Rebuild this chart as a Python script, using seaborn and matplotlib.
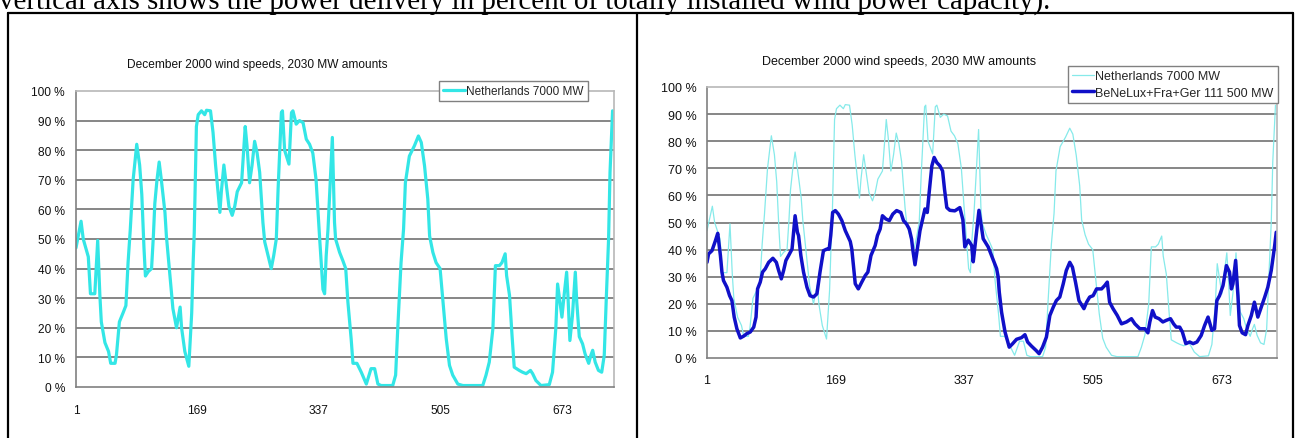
import numpy as np
import matplotlib
matplotlib.use("Agg")
import matplotlib.pyplot as plt
from matplotlib.lines import Line2D
import seaborn as sns

# hour of December 2000 -> % of installed wind capacity
nl_hours = [1, 8, 11, 18, 21, 27, 31, 34, 36, 41, 46, 49, 55, 57, 61, 66, 70, 73, 76, 80,
            85, 89, 92, 95, 97, 101, 105.5, 108, 110, 113, 116, 119, 124, 126, 131, 135, 140, 145, 147, 151.5,
            157, 161, 163, 164.5, 167.5, 170, 174.5, 179, 181.5, 187, 190.5, 194, 200, 202, 205.5, 209, 212.5, 217, 220.5, 224,
            230, 235, 237.5, 241, 244.5, 248, 251.5, 255, 259.5, 262, 266.5, 271, 274.5, 278, 280.5, 285, 286.5, 289.5, 295.5, 299,
            301, 305.5, 310, 315, 319.5, 324, 328.5, 333, 338, 342.5, 344.8, 347, 349.5, 355.5, 358.5, 360, 365.5, 370, 374, 377,
            381.5, 384, 389.5, 395.5, 402.5, 409, 414, 418.5, 423, 439, 443, 446, 450.5, 454, 456.5, 462, 469, 474.5, 478.5, 483,
            487.5, 490, 494.5, 499, 504.5, 509, 513, 517.5, 522, 529, 536, 563.5, 568, 572.5, 577.5, 581, 586.5, 590, 594.5, 596.5,
            600.5, 604, 607, 614, 618.5, 623.5, 629.5, 632.5, 637, 644, 655.5, 660, 664.5, 667, 670, 673, 676, 679.5, 681.5, 684,
            687.5, 691.5, 693.5, 697, 701.5, 705, 710, 713, 715.5, 719, 723.5, 728, 731.5, 734.5, 737.5, 739.5, 743]
nl_pct = [47, 56, 50, 44, 31.5, 31.5, 49.5, 31, 22, 15, 12, 8, 8, 11, 22, 25, 27.5, 42, 53, 70,
          82, 75, 65, 47, 37.5, 39, 40, 51, 62, 70, 76, 70, 59, 51, 37.5, 26.5, 20, 27, 20, 12,
          7, 25, 42, 52, 88, 92, 93.3, 92, 93.5, 93.3, 86, 75, 59, 66, 75, 68, 61, 58, 61, 66,
          69, 88, 81.5, 69, 75, 83, 79, 72.5, 55.5, 49, 44.5, 40, 44.5, 50, 67, 92.7, 93.3, 80, 75.3, 92.7,
          93.3, 88.8, 90, 89.3, 83.7, 82, 79, 70, 50, 33, 31.5, 44.4, 53.4, 84.3, 55.6, 50, 45.5, 42.7, 40, 28.7,
          16.3, 8, 8, 5, 1, 6.2, 6.2, 1, 0.5, 0.5, 4, 20, 42, 53.4, 69, 78, 81.5, 84.8, 82.6, 74.7,
          63.5, 51, 45.5, 42, 40, 27.5, 16.3, 7.3, 4, 1, 0.5, 0.5, 4, 8.4, 19.7, 41, 41, 42, 45, 37.6,
          31, 17.4, 6.7, 5.6, 5, 4.5, 5.6, 4.5, 2.2, 0.5, 0.8, 5, 19.7, 34.8, 29.2, 23.6, 31, 38.8, 29.8, 15.7,
          24, 38.8, 28.7, 17, 14.6, 11.2, 8, 10.7, 12.4, 8.4, 5.6, 5, 10.7, 31, 50, 72.5, 93.3]

eu_hours = [1, 3, 7.5, 12, 15, 18.5, 20.5, 22.5, 27, 30.5, 33.5, 36.5, 40, 44.5, 49, 53, 57.5, 62, 65, 67,
            70.5, 73.5, 77, 81.5, 87, 91.5, 94.5, 98, 101, 104, 107.5, 112, 116, 119, 120.5, 123.5, 127, 131.5, 135.5, 140,
            144.5, 148.5, 153, 157.5, 160.5, 162.5, 165, 168.5, 172.5, 177, 181.5, 185.5, 188, 190, 194.5, 198.5, 203, 207.5, 211, 215,
            220.5, 223.5, 227, 230, 234.5, 239, 243.5, 248.5, 254, 257.5, 261.5, 265, 268, 269.5, 272.5, 275.5, 279, 282.5, 285.5, 288.5,
            291, 294.5, 297.5, 301, 305, 308.5, 311, 314, 318, 324.5, 331, 335, 337.5, 342, 346.5, 348.5, 356, 361.5, 368, 374.5,
            379, 381, 382.5, 385.5, 390, 395.5, 400, 405, 411.5, 416, 419.5, 424.5, 430.5, 434.5, 439, 444, 448.5, 453, 457, 461.5,
            466, 470, 474.5, 478, 482, 486.5, 493, 496.5, 500.5, 505, 509.5, 516, 520, 523.5, 526.5, 531, 536.5, 542, 548.5, 555,
            559.5, 566, 572.5, 576.5, 579, 582.5, 586, 591, 596, 600.5, 606, 610, 613.5, 618, 621.5, 626, 631, 635.5, 640.5, 646,
            650.5, 655, 660, 663.5, 666.5, 670, 674.5, 679, 683, 685.5, 687.5, 691, 694, 696, 699.5, 704, 707, 711.5, 715.5, 720,
            724.5, 729, 733, 737.5, 742, 744]
eu_pct = [35.3, 38.4, 39.6, 43.3, 46, 37.8, 31.7, 28.6, 26.1, 23, 21.2, 15.1, 10.8, 7.4, 8.1, 9, 9.6, 11.4, 15.1, 25.5,
          28, 31.7, 32.9, 35.3, 36.8, 35.3, 32.3, 29.2, 32.3, 36, 37.8, 40.2, 52.5, 46.4, 45.2, 37.8, 31.7, 26.1, 23, 22.5,
          23.7, 31.7, 39.6, 40.2, 40.2, 45.2, 53.7, 54.4, 53.1, 50.7, 47, 44.5, 43, 40.2, 27.4, 25.5, 28, 30.4, 31.7, 37.8,
          41.5, 45.2, 47.6, 52.5, 51.3, 50.7, 53.1, 54.4, 53.7, 50.7, 49.4, 47.6, 43.9, 40.2, 34.4, 40.2, 47, 51.3, 55, 53.7,
          61.1, 70.9, 74, 72.1, 70.9, 69, 62.3, 55.5, 54.5, 54.3, 55.5, 51, 41, 43.5, 41.5, 35.5, 54.5, 44, 41, 36.3,
          33, 30, 24.3, 16.9, 9.6, 4, 5.3, 6.9, 7.5, 8.6, 5.9, 4.4, 2.8, 1.6, 4, 7.7, 15.7, 18.8, 21.2, 22.5,
          27.4, 32.3, 35.3, 33.5, 28, 21.2, 18.2, 20.6, 22.5, 23, 25.5, 25.5, 26.7, 28, 20.6, 18.2, 15.7, 12.6, 13.3, 14.5,
          12.6, 10.8, 10.8, 9.3, 13.3, 17.5, 15.1, 14.5, 13.3, 13.9, 14.5, 12.6, 11.4, 11.4, 9.6, 5.3, 5.9, 5.3, 5.9, 8.3,
          12, 15.1, 10.2, 10.8, 21.2, 23, 26.7, 34.1, 31.7, 25.5, 27.4, 36, 23, 12, 9.3, 8.6, 12, 15.7, 20.6, 15.1,
          18.8, 22.5, 26.1, 32.3, 41.5, 46.4]

week_ticks = [1, 169, 337, 505, 673]
pct_ticks = list(range(0, 101, 10))

title = "December 2000 wind speeds, 2030 MW amounts"
nl_label = "Netherlands 7000 MW"
eu_label = "BeNeLux+Fra+Ger 111 500 MW"
caption = "vertical axis shows the power delivery in percent of totally installed wind power capacity)."

sns.set_style("white")
plt.rcParams["font.family"] = ["Liberation Sans", "DejaVu Sans"]

W, H = 1299, 439
fig = plt.figure(figsize=(W / 100, H / 100), dpi=100)


def fx(px):
    return px / W


def fy(py):
    return 1 - py / H


def box(x0, y0, x1, y1):
    # pixel box (top-left, bottom-right) -> axes rect
    return [fx(x0), fy(y1), fx(x1) - fx(x0), fy(y0) - fy(y1)]


def style(ax, fs, xpad, ypad):
    ax.set_xlim(1, 745)
    ax.set_ylim(0, 100)
    day_ticks = np.arange(1, 746, 24)
    ax.set_xticks(day_ticks)
    ax.set_xticklabels([str(t) if t in week_ticks else "" for t in day_ticks])
    ax.set_yticks(pct_ticks)
    ax.set_yticklabels([f"{v} %" for v in pct_ticks])
    ax.tick_params(axis="x", direction="out", length=3.6, width=1, color="#808080",
                   labelsize=fs, pad=xpad, labelcolor="#111111")
    ax.tick_params(axis="y", direction="out", length=2.4, width=1, color="#808080",
                   labelsize=fs, pad=ypad, labelcolor="#111111")
    ax.grid(axis="y", color="#7d7d7d", linewidth=1.3)
    ax.grid(axis="x", visible=False)
    for line, v in zip(ax.get_ygridlines(), pct_ticks):
        if v in (0, 100):
            line.set_visible(False)
    ax.set_axisbelow(True)
    for side in ("left", "bottom"):
        ax.spines[side].set_color("#808080")
        ax.spines[side].set_linewidth(1.2)
    for side in ("top", "right"):
        ax.spines[side].set_color("#b8b8b8")
        ax.spines[side].set_linewidth(1.2)
    ax.set_xlabel("")
    ax.set_ylabel("")


# left panel: Netherlands only
ax1 = fig.add_axes(box(76, 92, 614, 388))
sns.lineplot(x=nl_hours, y=nl_pct, ax=ax1, color="#33e6e6", linewidth=2.3,
             estimator=None, label=nl_label)
style(ax1, 8.6, 9, 5.5)
leg1 = ax1.legend(loc="upper right", bbox_to_anchor=(fx(588), fy(82)), bbox_transform=fig.transFigure,
                  fontsize=8.5, handlelength=1.8, handletextpad=0.15, borderpad=0.35,
                  borderaxespad=0, fancybox=False, framealpha=1, edgecolor="#808080")
leg1.get_frame().set_linewidth(1.0)
fig.text(fx(257), fy(65), title, ha="center", va="center", fontsize=8.6, color="#111111")

# right panel: Netherlands vs. the five-country pool
ax2 = fig.add_axes(box(707, 88, 1277, 359))
sns.lineplot(x=nl_hours, y=nl_pct, ax=ax2, color="#86eaea", linewidth=0.9,
             estimator=None, label=nl_label)
sns.lineplot(x=eu_hours, y=eu_pct, ax=ax2, color="#1010c8", linewidth=2.5,
             estimator=None, label=eu_label)
style(ax2, 9.0, 8, 5)
leg2 = ax2.legend(loc="upper right", bbox_to_anchor=(fx(1278), fy(67)), bbox_transform=fig.transFigure,
                  fontsize=9.0, handlelength=1.7, handletextpad=0.15, borderpad=0.35,
                  labelspacing=0.35, borderaxespad=0, fancybox=False, framealpha=1, edgecolor="#808080")
leg2.get_frame().set_linewidth(1.0)
fig.text(fx(899), fy(62.5), title, ha="center", va="center", fontsize=9.0, color="#111111")

# cut-off caption line of the document above the table
cap = fig.text(fx(-1), fy(9.5), caption, ha="left", va="baseline", fontsize=19,
               family=["Liberation Serif", "DejaVu Serif"], color="black")
renderer = fig.canvas.get_renderer()
w = cap.get_window_extent(renderer).width
cap.set_fontsize(19 * 1054 / w)

# table borders
for x in (8, 637, 1293):
    fig.add_artist(Line2D([fx(x), fx(x)], [fy(14), 0], color="black", linewidth=1.6))
fig.add_artist(Line2D([fx(8), fx(1293)], [fy(14), fy(14)], color="black", linewidth=1.6))

fig.savefig("out.png", dpi=100)
